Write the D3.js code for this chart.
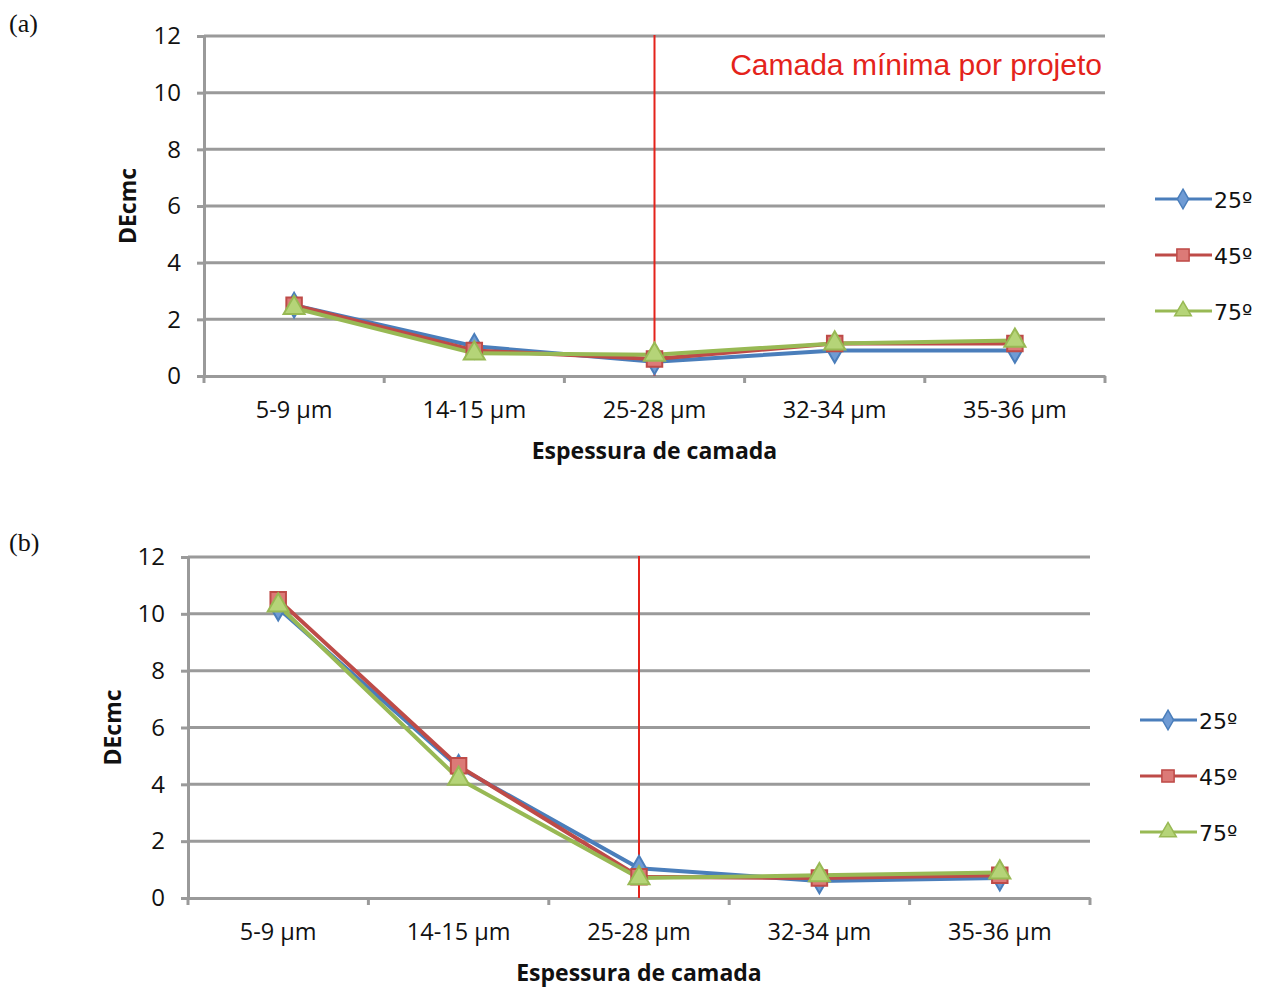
<!DOCTYPE html>
<html><head><meta charset="utf-8">
<script src="https://cdn.jsdelivr.net/npm/d3@7"></script>
<style>body{margin:0;background:#fff}svg{display:block}</style>
</head><body>
<svg id="chart" width="1264" height="989"></svg>
<script>
const categories = ["5-9 µm","14-15 µm","25-28 µm","32-34 µm","35-36 µm"];
const seriesNames = ["25º","45º","75º"];
const yTicks = [0,2,4,6,8,10,12];
// Panel (a)
const a25 = [2.5, 1.05, 0.5, 0.9, 0.9];
const a45 = [2.5, 0.9, 0.6, 1.15, 1.15];
const a75 = [2.4, 0.8, 0.75, 1.15, 1.25];
// Panel (b)
const b25 = [10.2, 4.6, 1.05, 0.6, 0.7];
const b45 = [10.5, 4.65, 0.75, 0.7, 0.8];
const b75 = [10.3, 4.2, 0.7, 0.8, 0.9];
const annotation = "Camada mínima por projeto";
const refCategory = "25-28 µm";

const colors = ["#4a7ebb","#be4b48","#98b954"];
const fills = ["#6f9bd4","#dc7a77","#b5d478"];
const FONT = "Open Sans, Lato, sans-serif";
const svg = d3.select("#chart");

function panel(opts){
  const {label, labelY, x0, x1, yTop, yBot, data, legX, legY, showAnn, yTitleX} = opts;
  const g = svg.append("g");
  const x = d3.scaleBand().domain(categories).range([x0,x1]);
  const y = d3.scaleLinear().domain([0,12]).range([yBot,yTop]);
  g.append("text").attr("x",9).attr("y",labelY).attr("font-family","Liberation Serif, serif")
    .attr("font-size",26).attr("fill","#111").text(label);
  // grid
  g.selectAll(".grid").data(yTicks.filter(d=>d>0)).join("line")
    .attr("x1",x0).attr("x2",x1).attr("y1",d=>y(d)).attr("y2",d=>y(d))
    .attr("stroke","#9a9a9a").attr("stroke-width",3);
  // y axis
  const ya = g.append("g").attr("transform",`translate(${x0},0)`)
    .call(d3.axisLeft(y).tickValues(yTicks).tickSize(7).tickPadding(16));
  ya.select(".domain").attr("stroke","#9a9a9a").attr("stroke-width",3);
  ya.selectAll(".tick line").attr("stroke","#9a9a9a").attr("stroke-width",3);
  ya.selectAll(".tick text").attr("font-family",FONT).attr("font-size",24).attr("fill","#111");
  // x axis
  const xa = g.append("g").attr("transform",`translate(0,${yBot})`)
    .call(d3.axisBottom(x).tickSize(0).tickPadding(25));
  xa.select(".domain").attr("stroke","#9a9a9a").attr("stroke-width",3);
  xa.selectAll(".tick text").attr("font-family",FONT).attr("font-size",23.5).attr("fill","#111");
  g.selectAll(".xt").data(d3.range(categories.length+1)).join("line")
    .attr("x1",i=>x0+i*x.step()).attr("x2",i=>x0+i*x.step())
    .attr("y1",yBot).attr("y2",yBot+7).attr("stroke","#9a9a9a").attr("stroke-width",3);
  // titles
  g.append("text").attr("x",(x0+x1)/2).attr("y",yBot+83).attr("text-anchor","middle")
    .attr("font-family",FONT).attr("font-weight","bold").attr("font-size",23)
    .attr("fill","#111").text("Espessura de camada");
  g.append("text").attr("transform",`translate(${yTitleX},${(yTop+yBot)/2}) rotate(-90)`)
    .attr("text-anchor","middle").attr("font-family",FONT).attr("font-weight","bold")
    .attr("font-size",23).attr("fill","#111").text("DEcmc");
  // reference line
  const rx = x(refCategory)+x.bandwidth()/2;
  g.append("line").attr("x1",rx).attr("x2",rx).attr("y1",yTop-1).attr("y2",yBot)
    .attr("stroke","#e4231b").attr("stroke-width",2);
  if(showAnn){
    g.append("text").attr("x",x1-3).attr("y",y(11)+11).attr("text-anchor","end")
      .attr("font-family","Liberation Sans, Arial, sans-serif").attr("font-size",30)
      .attr("fill","#e4231b").text(annotation);
  }
  const line = d3.line().x((d,i)=>x(categories[i])+x.bandwidth()/2).y(d=>y(d));
  const symbols = [d3.symbolDiamond, d3.symbolSquare, d3.symbolTriangle];
  const sizes = [110, 150, 120];
  data.forEach((vals,si)=>{
    g.append("path").datum(vals).attr("d",line).attr("fill","none")
      .attr("stroke",colors[si]).attr("stroke-width",4).attr("stroke-linejoin","round");
  });
  data.forEach((vals,si)=>{
    g.selectAll(null).data(vals).join("path")
      .attr("transform",(d,i)=>`translate(${x(categories[i])+x.bandwidth()/2},${y(d)})`)
      .attr("d",d3.symbol(symbols[si],sizes[si]*1.6))
      .attr("fill",fills[si]).attr("stroke",colors[si]).attr("stroke-width",2);
  });
  // legend
  seriesNames.forEach((n,si)=>{
    const ly = legY + si*56;
    g.append("line").attr("x1",legX).attr("x2",legX+57).attr("y1",ly).attr("y2",ly)
      .attr("stroke",colors[si]).attr("stroke-width",3);
    g.append("path").attr("transform",`translate(${legX+28},${ly})`)
      .attr("d",d3.symbol(symbols[si],sizes[si]))
      .attr("fill",fills[si]).attr("stroke",colors[si]).attr("stroke-width",1.5);
    g.append("text").attr("x",legX+59).attr("y",ly+9).attr("font-family","DejaVu Sans, sans-serif")
      .attr("font-size",22).attr("fill","#111").text(n);
  });
}

panel({label:"(a)", labelY:32, x0:204, x1:1105, yTop:36, yBot:376,
  data:[a25,a45,a75], legX:1155, legY:199, showAnn:true, yTitleX:136});
panel({label:"(b)", labelY:551, x0:188, x1:1090, yTop:557, yBot:898,
  data:[b25,b45,b75], legX:1140, legY:720, showAnn:false, yTitleX:121});
</script>
</body></html>
